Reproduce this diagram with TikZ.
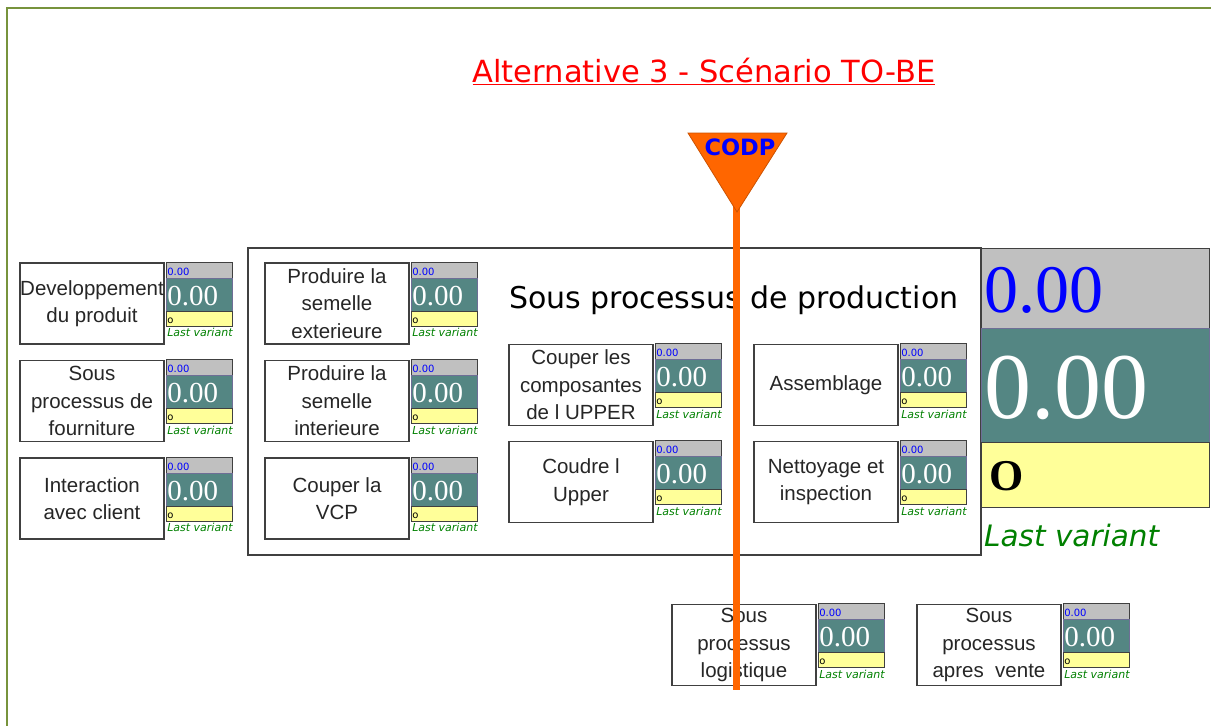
\documentclass[tikz,border=0pt]{standalone}
\usepackage{fontspec}
\setmainfont{Liberation Sans}
\newfontfamily\tahomafont{DejaVu Sans}
\newfontfamily\numfont{Liberation Serif}
\usepackage{tikz}
\usetikzlibrary{calc,positioning}
\definecolor{framegreen}{RGB}{119,147,60}
\definecolor{boxgray}{RGB}{64,64,64}
\definecolor{kpigray}{RGB}{192,192,192}
\definecolor{kpiteal}{RGB}{84,134,131}
\definecolor{kpitealline}{RGB}{110,110,150}
\definecolor{kpiyellow}{RGB}{255,255,153}
\definecolor{lastgreen}{RGB}{0,128,0}
\definecolor{codporange}{RGB}{255,102,0}

% small indicator right of a unit box
\newcommand{\kpi}[1]{%
  \coordinate (#1k) at ($(#1.north east)+(1.5,0)$);
  \draw[kpiframe,fill=kpigray] (#1k) rectangle ++(66,16);
  \node[kpitiny,text=blue] at ($(#1k)+(1,13)$) {0.00};
  \draw[kpiframe,fill=kpiteal,draw=kpitealline] ($(#1k)+(0,16)$) rectangle ++(66,33);
  \node[kpinum] at ($(#1k)+(1,43)$) {0.00};
  \draw[kpiframe,fill=kpiyellow] ($(#1k)+(0,49)$) rectangle ++(66,15);
  \node[kpitiny] at ($(#1k)+(1,61)$) {o};
  \node[kpilast] at ($(#1k)+(1,74.5)$) {Last variant};
}

\begin{document}
\begin{tikzpicture}[x=1pt,y=-1pt,
    frame/.style={draw=framegreen,line width=2.5pt},
    unitbox/.style={draw=boxgray,line width=1.2pt,fill=white,minimum width=144,minimum height=81,
      inner sep=0,align=center,text=black!85,font=\fontsize{20.5}{27.5}\selectfont},
    kpiframe/.style={draw=boxgray,line width=1pt},
    kpitiny/.style={anchor=base west,inner sep=0,font=\tahomafont\fontsize{10}{10}\selectfont},
    kpinum/.style={anchor=base west,inner sep=0,text=white,font=\numfont\fontsize{29}{29}\selectfont},
    kpilast/.style={anchor=base west,inner sep=0,text=lastgreen,font=\tahomafont\itshape\fontsize{11}{11}\selectfont},
    codpline/.style={draw=codporange,line width=7pt}]
  \useasboundingbox (0,0) rectangle (1211,726);
  % page frame
  \draw[frame] (7,726) -- (7,8) -- (1211,8);
  % title
  \node[anchor=base,inner sep=0,text=red,font=\tahomafont\fontsize{30.5}{30.5}\selectfont] (title) at (704,82) {\underline{Alternative 3 - Scénario TO-BE}};
  % production sub process frame
  \draw[boxgray,line width=1.2pt] (248,248) rectangle (981,555);
  \node[anchor=base west,inner sep=0,font=\tahomafont\fontsize{30}{30}\selectfont] (prodTitle) at (509,308) {Sous processus de production};
  % unit boxes
  \node[unitbox] (dev) at (92,303.5) {Developpement\\du produit};
  \node[unitbox] (fourn) at (92,401) {Sous\\processus de\\fourniture};
  \node[unitbox] (client) at (92,498.5) {Interaction\\avec client};
  \node[unitbox] (semExt) at (337,303.5) {Produire la\\semelle\\exterieure};
  \node[unitbox] (semInt) at (337,401) {Produire la\\semelle\\interieure};
  \node[unitbox] (vcp) at (337,498.5) {Couper la\\VCP};
  \node[unitbox] (coupUp) at (581,385) {Couper les\\composantes\\de l UPPER};
  \node[unitbox] (coudre) at (581,482) {Coudre l\\Upper};
  \node[unitbox] (assemb) at (826,385) {Assemblage};
  \node[unitbox] (nettoy) at (826,482) {Nettoyage et\\inspection};
  \node[unitbox] (logist) at (744,645) {Sous\\processus\\logistique};
  \node[unitbox] (apresV) at (989,645) {Sous\\processus\\apres\ \ vente};
  % indicators
  \kpi{dev}
  \kpi{fourn}
  \kpi{client}
  \kpi{semExt}
  \kpi{semInt}
  \kpi{vcp}
  \kpi{coupUp}
  \kpi{coudre}
  \kpi{assemb}
  \kpi{nettoy}
  \kpi{logist}
  \kpi{apresV}
  % big indicator (legend)
  \draw[kpiframe,fill=kpigray] (981,248) rectangle (1209,328);
  \node[anchor=base west,inner sep=0,text=blue,font=\numfont\fontsize{68}{68}\selectfont] (bigTop) at (984,312) {0.00};
  \draw[kpiframe,fill=kpiteal,draw=kpitealline] (981,328) rectangle (1209,442);
  \node[anchor=base west,inner sep=0,text=white,font=\numfont\fontsize{94}{94}\selectfont] (bigMid) at (984,418) {0.00};
  \draw[kpiframe,fill=kpiyellow] (981,442) rectangle (1209,507);
  \node[anchor=base west,inner sep=0,font=\numfont\bfseries\fontsize{44}{44}\selectfont] (bigLow) at (989,490) {O};
  \node[anchor=base west,inner sep=0,text=lastgreen,font=\tahomafont\itshape\fontsize{29.5}{29.5}\selectfont] (bigLast) at (984,546) {Last variant};
  % CODP line and triangle
  \coordinate (codpTip) at (736,205);
  \coordinate (codpEnd) at (736,690);
  \draw[codpline] (codpTip) -- (codpEnd);
  \draw[fill=codporange,draw=codporange!80!black,line width=0.8pt] (688,133) -- (787,133) -- (737,212) -- cycle;
  \node[anchor=base,inner sep=0,text=blue,font=\tahomafont\bfseries\fontsize{22.5}{22.5}\selectfont] (codp) at (740,155) {CODP};
\end{tikzpicture}
\end{document}
